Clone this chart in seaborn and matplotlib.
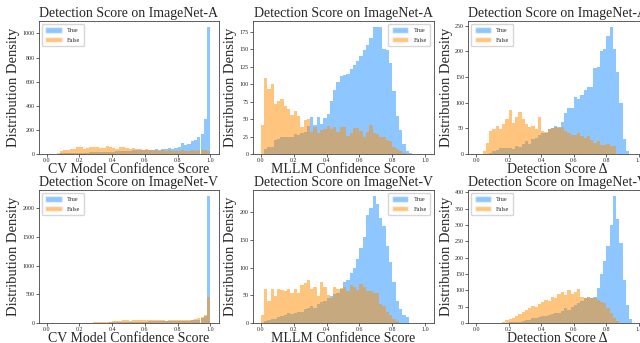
import numpy as np
import pandas as pd
import matplotlib
matplotlib.use("Agg")
import matplotlib.pyplot as plt
from matplotlib.ticker import MultipleLocator
from matplotlib.patches import Patch
import seaborn as sns

# ---------------- data (50 bins of width 0.02 on [0, 1]) ----------------
bin_edges = [round(0.02 * i, 2) for i in range(51)]

titles = ["Detection Score on ImageNet-A", "Detection Score on ImageNet-A", "Detection Score on ImageNet-A",
          "Detection Score on ImageNet-V", "Detection Score on ImageNet-V", "Detection Score on ImageNet-V"]
xlabels = ["CV Model Confidence Score", "MLLM Confidence Score", "Detection Score Δ",
           "CV Model Confidence Score", "MLLM Confidence Score", "Detection Score Δ"]
legend_labels = ["True", "False"]
legend_locs = ["upper left", "upper right", "upper left", "upper left", "upper right", "upper left"]
y_tick_steps = [200, 25, 50, 500, 50, 50]

cv_a_true = [0, 0, 0, 3, 5, 5, 8, 8, 10, 10,
             10, 12, 12, 15, 15, 15, 18, 18, 20, 20,
             20, 22, 22, 25, 25, 28, 30, 32, 35, 30,
             35, 32, 35, 40, 35, 40, 38, 50, 40, 52,
             60, 90, 75, 80, 110, 120, 140, 170, 290, 1055]
cv_a_false = [0, 0, 0, 12, 22, 30, 35, 40, 45, 60,
              58, 45, 50, 55, 62, 60, 50, 48, 65, 58,
              50, 45, 55, 55, 50, 45, 48, 45, 40, 35,
              38, 30, 35, 30, 28, 30, 25, 30, 25, 28,
              25, 30, 25, 28, 30, 25, 30, 32, 30, 25]

mllm_a_true = [0, 7, 10, 10, 20, 22, 25, 25, 24, 25,
               28, 27, 30, 32, 40, 53, 42, 53, 43, 52,
               57, 76, 91, 103, 112, 113, 114, 122, 128, 133,
               140, 149, 156, 166, 182, 182, 182, 150, 149, 130,
               90, 55, 35, 15, 5, 2, 0, 0, 0, 0]
mllm_a_false = [42, 109, 93, 100, 72, 76, 79, 68, 64, 56,
                62, 55, 38, 49, 50, 32, 38, 30, 34, 36,
                40, 36, 39, 32, 39, 38, 26, 30, 37, 37,
                33, 25, 32, 42, 30, 28, 25, 25, 20, 18,
                10, 7, 4, 2, 0, 0, 0, 0, 0, 0]

delta_a_true = [0, 0, 0, 0, 2, 5, 8, 12, 12, 12,
                12, 10, 15, 13, 20, 25, 20, 30, 32, 38,
                40, 40, 48, 50, 55, 52, 62, 79, 89, 89,
                112, 108, 115, 125, 131, 131, 167, 170, 200, 205,
                230, 248, 205, 160, 100, 30, 5, 0, 0, 0]
delta_a_false = [0, 0, 5, 22, 45, 48, 55, 48, 58, 68,
                 85, 60, 72, 82, 68, 58, 52, 55, 48, 72,
                 45, 42, 48, 50, 52, 50, 52, 45, 40, 38,
                 38, 40, 35, 32, 35, 28, 22, 25, 18, 17,
                 20, 15, 15, 0, 0, 0, 0, 0, 0, 0]

cv_v_true = [0, 0, 0, 0, 0, 0, 0, 0, 0, 0,
             0, 0, 0, 2, 3, 4, 5, 6, 8, 10,
             15, 18, 18, 20, 20, 22, 22, 25, 25, 25,
             25, 28, 28, 30, 30, 30, 32, 32, 35, 35,
             35, 38, 40, 42, 45, 50, 60, 90, 120, 2220]
cv_v_false = [0, 0, 0, 0, 0, 0, 0, 0, 0, 0,
              0, 0, 0, 5, 10, 15, 18, 20, 22, 25,
              40, 42, 40, 45, 45, 42, 45, 45, 48, 45,
              45, 48, 45, 50, 45, 48, 42, 45, 50, 45,
              48, 50, 52, 55, 60, 75, 80, 100, 135, 460]

mllm_v_true = [0, 3, 5, 8, 8, 10, 12, 15, 18, 17,
               18, 20, 20, 25, 28, 30, 28, 35, 38, 40,
               45, 48, 52, 55, 62, 75, 78, 90, 100, 115,
               135, 155, 195, 208, 230, 215, 190, 175, 140, 110,
               75, 40, 25, 15, 10, 0, 0, 0, 0, 0]
mllm_v_false = [14, 62, 40, 62, 48, 62, 60, 58, 62, 55,
                62, 55, 68, 72, 78, 62, 65, 48, 75, 65,
                50, 46, 65, 62, 63, 65, 58, 68, 65, 60,
                70, 65, 58, 57, 55, 55, 35, 30, 20, 15,
                8, 4, 0, 0, 0, 0, 0, 0, 0, 0]

delta_v_true = [0, 0, 0, 0, 0, 0, 0, 0, 0, 0,
                2, 2, 4, 4, 5, 8, 10, 15, 15, 18,
                20, 22, 25, 28, 30, 32, 38, 45, 40, 48,
                55, 60, 68, 75, 80, 75, 80, 106, 150, 190,
                235, 300, 389, 317, 245, 132, 55, 13, 0, 0]
delta_v_false = [0, 0, 0, 0, 0, 0, 0, 0, 3, 8,
                 12, 15, 22, 28, 35, 40, 45, 52, 50, 58,
                 65, 70, 68, 80, 75, 88, 95, 85, 100, 90,
                 95, 105, 80, 75, 80, 78, 75, 70, 65, 60,
                 45, 30, 15, 5, 0, 0, 0, 0, 0, 0]

true_series = [cv_a_true, mllm_a_true, delta_a_true, cv_v_true, mllm_v_true, delta_v_true]
false_series = [cv_a_false, mllm_a_false, delta_a_false, cv_v_false, mllm_v_false, delta_v_false]

# ---------------- style ----------------
sns.set_style("ticks")
plt.rcParams["font.family"] = ["Liberation Serif", "DejaVu Serif"]
plt.rcParams["axes.linewidth"] = 0.6
plt.rcParams["axes.edgecolor"] = "#444444"

true_color = "dodgerblue"
false_color = "darkorange"

W, H = 640, 343
fig = plt.figure(figsize=(6.4, 3.43), dpi=100)

col_left = [38.5, 252.5, 468]
col_w = [180, 181, 179]
row_top = [20.5, 189.5]
ax_h = 133.5

centers = [(bin_edges[i] + bin_edges[i + 1]) / 2 for i in range(50)]

for k in range(6):
    r, c = divmod(k, 3)
    ax = fig.add_axes([col_left[c] / W, (H - row_top[r] - ax_h) / H, col_w[c] / W, ax_h / H])
    df = pd.DataFrame({"score": centers, "t": true_series[k], "f": false_series[k]})
    sns.histplot(data=df, x="score", weights="t", bins=bin_edges, color=true_color,
                 alpha=0.5, linewidth=0, ax=ax)
    sns.histplot(data=df, x="score", weights="f", bins=bin_edges, color=false_color,
                 alpha=0.5, linewidth=0, ax=ax)
    ax.set_title(titles[k], fontsize=10, pad=2)
    ax.set_xlabel(xlabels[k], fontsize=10, labelpad=0)
    ax.set_ylabel("Distribution Density", fontsize=10.5, labelpad=1.5)
    ax.set_xticks([0.0, 0.2, 0.4, 0.6, 0.8, 1.0])
    ax.yaxis.set_major_locator(MultipleLocator(y_tick_steps[k]))
    ax.tick_params(labelsize=4.3, length=2, width=0.5, pad=0.8)
    handles = [Patch(facecolor=true_color, alpha=0.5, label=legend_labels[0]),
               Patch(facecolor=false_color, alpha=0.5, label=legend_labels[1])]
    ax.legend(handles=handles, loc=legend_locs[k], fontsize=4.5, handlelength=2.6,
              handleheight=0.9, borderpad=0.6, labelspacing=0.6, framealpha=0.8)

fig.savefig("out.png", dpi=100)
